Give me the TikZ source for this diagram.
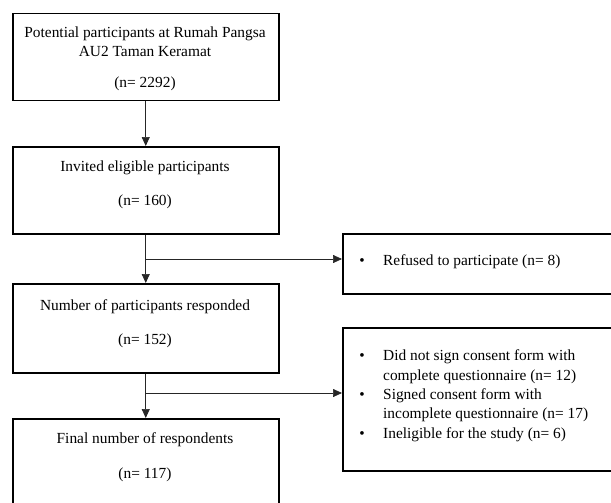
\documentclass[tikz,border=0pt]{standalone}
\usepackage{fontspec}
\setmainfont{Liberation Serif}
\usetikzlibrary{arrows.meta}
\begin{document}
\begin{tikzpicture}[x=1pt,y=-1pt,
  box/.style={draw=black,line width=1.5pt,inner sep=0pt,anchor=north west},
  conn/.style={draw=black!85,line width=0.7pt,-{Triangle[length=9pt,width=8pt]}},
  txt/.style={inner sep=0pt,anchor=base,font=\fontsize{15.4}{19.5}\selectfont,text=black},
  ltxt/.style={txt,anchor=base west}]
\useasboundingbox (0,0) rectangle (611,503);
\clip (0,0) rectangle (611,503);
% main boxes
\node[box,minimum width=266pt,minimum height=87pt] (b1) at (12,13) {};
\node[box,minimum width=266pt,minimum height=87pt] (b2) at (12,146) {};
\node[box,minimum width=266pt,minimum height=89pt] (b3) at (12,283) {};
\node[box,minimum width=266pt,minimum height=95pt] (b4) at (12,418) {};
% side boxes
\node[box,minimum width=280pt,minimum height=60pt] (r1) at (342,233) {};
\node[box,minimum width=280pt,minimum height=143pt] (r2) at (342,327) {};
% texts
\node[txt] (t1a) at (145,38) {Potential participants at Rumah Pangsa};
\node[txt] (t1b) at (145,57) {AU2 Taman Keramat};
\node[txt] (t1c) at (145,88) {(n= 2292)};
\node[txt] (t2a) at (145,171) {Invited eligible participants};
\node[txt] (t2b) at (145,205) {(n= 160)};
\node[txt] (t3a) at (145,310) {Number of participants responded};
\node[txt] (t3b) at (145,344) {(n= 152)};
\node[txt] (t4a) at (145,443) {Final number of respondents};
\node[txt] (t4b) at (145,478) {(n= 117)};
\node[txt] (u1) at (362,265) {•};
\node[ltxt] (s1) at (383,265) {Refused to participate (n= 8)};
\node[txt] (u2) at (362,360) {•};
\node[ltxt] (s2a) at (383,360) {Did not sign consent form with};
\node[ltxt] (s2b) at (383,380) {complete questionnaire (n= 12)};
\node[txt] (u3) at (362,399) {•};
\node[ltxt] (s3a) at (383,399) {Signed consent form with};
\node[ltxt] (s3b) at (383,418) {incomplete questionnaire (n= 17)};
\node[txt] (u4) at (362,438) {•};
\node[ltxt] (s4) at (383,438) {Ineligible for the study (n= 6)};
% connectors
\coordinate (j1) at (b2.south |- 0,259);
\coordinate (j2) at (b3.south |- 0,393);
\draw[conn] (b1.south) -- (b2.north);
\draw[conn] (b2.south) -- (b3.north);
\draw[conn] (j1) -- (j1 -| r1.west);
\draw[conn] (b3.south) -- (b4.north);
\draw[conn] (j2) -- (j2 -| r2.west);
\end{tikzpicture}
\end{document}
